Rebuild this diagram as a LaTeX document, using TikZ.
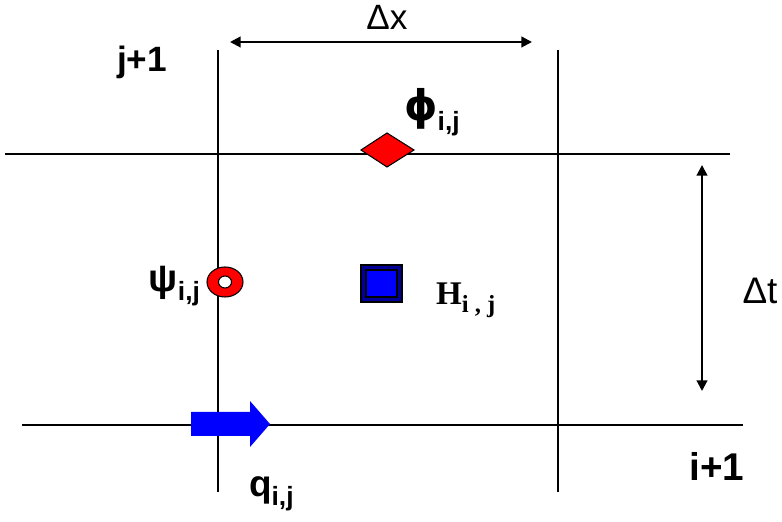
\documentclass[tikz,border=0pt]{standalone}
\usepackage{fontspec}
\setmainfont{Liberation Sans}
\newfontfamily\serifbf{Liberation Serif}
\newfontfamily\greekbf{DejaVu Sans}
\usetikzlibrary{arrows.meta}
\begin{document}
\begin{tikzpicture}[x=0.01cm,y=-0.01cm,line width=0.6pt,
	>={Triangle[length=3pt,width=3pt]},
	gridline/.style={black},
	lbl/.style={inner sep=0pt,font=\bfseries}]
	\useasboundingbox (0,0) rectangle (782,522);
	\path
	(218,50) coordinate (A1)
	(218,492) coordinate (A2)
	(558,50) coordinate (B1)
	(558,492) coordinate (B2)
	(5,154) coordinate (C1)
	(730,154) coordinate (C2)
	(22,425) coordinate (D1)
	(743,425) coordinate (D2)
	(230,42) coordinate (X1)
	(532,42) coordinate (X2)
	(702,165) coordinate (T1)
	(702,391) coordinate (T2)
	;
	\draw[gridline]
	(A1)--(A2)
	(B1)--(B2)
	(C1)--(C2)
	(D1)--(D2);
	\draw[<->] (X1)--(X2);
	\draw[<->] (T1)--(T2);
	% markers
	\filldraw[fill=red,draw=black,line width=0.3pt]
	(361,150)--(387,133)--(414,150)--(387,167)--cycle;
	\filldraw[fill=red,draw=black,line width=0.3pt,even odd rule]
	(225,282) ellipse [x radius=0.18cm,y radius=0.15cm]
	(225,282) ellipse [x radius=0.065cm,y radius=0.06cm];
	\filldraw[fill=blue!60!black,draw=black,line width=0.4pt]
	(361,265) rectangle (402,302);
	\filldraw[fill=blue,draw=black,line width=0.4pt]
	(366,270) rectangle (397,297);
	\fill[blue]
	(191,412)--(250,412)--(250,401)--(270,424)--(250,447)--(250,436)--(191,436)--cycle;
	% labels
	\node (dx) at (387,17) {\fontsize{10}{12}\selectfont Δx};
	\node (dt) at (760,291) {\fontsize{10.5}{12}\selectfont Δt};
	\node[lbl] (jp) at (142,62) {\fontsize{10}{12}\selectfont j+1};
	\node[lbl] (ip) at (717,466) {\fontsize{11}{13}\selectfont i+1};
	\node[lbl,anchor=base west] (phi) at (403,121)
	{\fontsize{12}{14}\selectfont\greekbf\bfseries ϕ\raisebox{-2.8pt}{\fontsize{7.5}{9}\selectfont\rmfamily\bfseries i,j}};
	\node[lbl,anchor=base east] (psi) at (201,292)
	{\fontsize{11}{13}\selectfont ψ\raisebox{-2.5pt}{\fontsize{7.5}{9}\selectfont i,j}};
	\node[lbl,anchor=base west] (q) at (248,497)
	{\fontsize{10.5}{12}\selectfont q\raisebox{-2.3pt}{\fontsize{7.5}{9}\selectfont i,j}};
	\node[lbl,anchor=base west] (H) at (435,305)
	{\fontsize{9.4}{11}\selectfont\serifbf\bfseries H\raisebox{-2pt}{\fontsize{7}{8}\selectfont i , j}};
\end{tikzpicture}
\end{document}
